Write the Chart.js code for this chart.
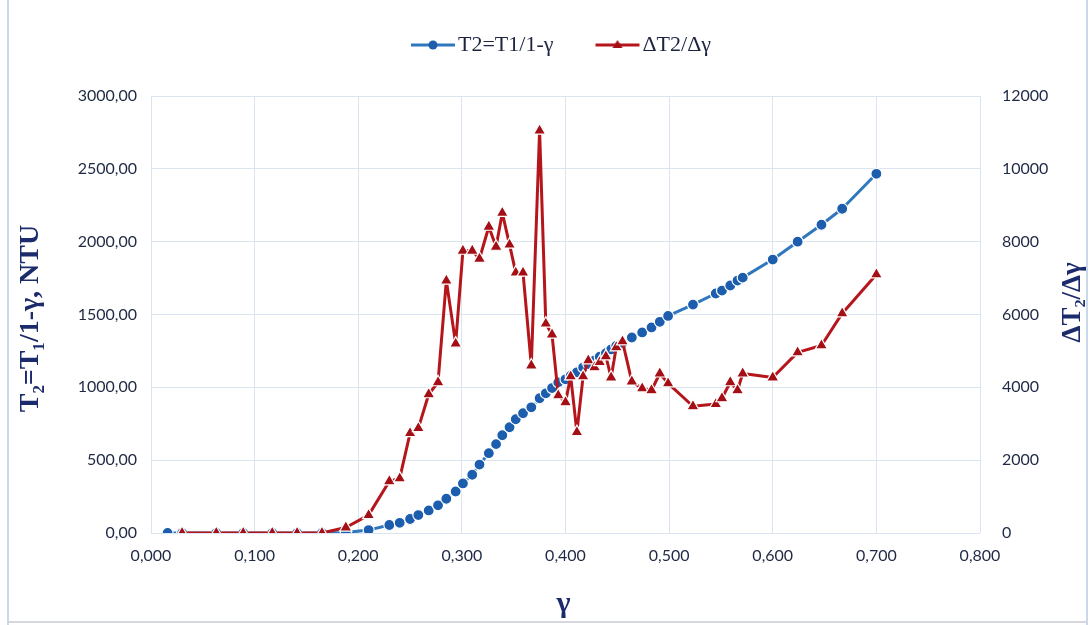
<!DOCTYPE html>
<html>
<head>
<meta charset="utf-8">
<script src="https://cdn.jsdelivr.net/npm/chart.js@4.4.1/dist/chart.umd.min.js"></script>
<style>
  body { margin: 0; background: #ffffff; }
  #wrap { position: relative; width: 1090px; height: 625px; }
</style>
</head>
<body>
<div id="wrap"><canvas id="chart" width="1090" height="625"></canvas></div>
<script>
// gamma values (x) and series
const gammaT2 = [0.016, 0.030, 0.063, 0.089, 0.117, 0.141, 0.165, 0.188, 0.210, 0.230, 0.240, 0.250, 0.258, 0.268, 0.277, 0.285, 0.294, 0.301, 0.310, 0.317, 0.326, 0.333, 0.339, 0.346, 0.352, 0.359, 0.367, 0.375, 0.381, 0.387, 0.393, 0.400, 0.405, 0.411, 0.417, 0.422, 0.428, 0.433, 0.439, 0.444, 0.449, 0.455, 0.464, 0.474, 0.483, 0.491, 0.499, 0.523, 0.545, 0.551, 0.559, 0.566, 0.571, 0.600, 0.624, 0.647, 0.667, 0.700];
const t2Values = [0, 0, 0, 0, 0, 0, 0, 3, 20, 55, 70, 96, 123, 155, 190, 235, 285, 340, 400, 470, 548, 610, 671, 726, 781, 822, 863, 925, 959, 995, 1034, 1055, 1080, 1103, 1137, 1160, 1185, 1210, 1235, 1260, 1285, 1305, 1342, 1377, 1411, 1450, 1490, 1568, 1644, 1664, 1699, 1733, 1753, 1877, 2000, 2116, 2226, 2466];

const gammaDeriv = [0.030, 0.063, 0.089, 0.117, 0.141, 0.165, 0.188, 0.210, 0.230, 0.240, 0.250, 0.258, 0.268, 0.277, 0.285, 0.294, 0.301, 0.310, 0.317, 0.326, 0.333, 0.339, 0.346, 0.352, 0.359, 0.367, 0.375, 0.381, 0.387, 0.393, 0.400, 0.405, 0.411, 0.417, 0.422, 0.428, 0.433, 0.439, 0.444, 0.449, 0.455, 0.464, 0.474, 0.483, 0.491, 0.499, 0.523, 0.545, 0.551, 0.559, 0.566, 0.571, 0.600, 0.624, 0.647, 0.667, 0.700];
const derivValues = [0, 0, 0, 0, 0, 0, 150, 490, 1420, 1500, 2740, 2880, 3810, 4140, 6930, 5200, 7750, 7750, 7530, 8410, 7860, 8790, 7920, 7150, 7150, 4600, 11050, 5750, 5450, 3780, 3590, 4300, 2770, 4300, 4740, 4550, 4690, 4850, 4270, 5100, 5260, 4160, 3970, 3920, 4380, 4110, 3480, 3540, 3700, 4140, 3920, 4380, 4270, 4960, 5150, 6030, 7100];

const xTickLabels = ['0,000', '0,100', '0,200', '0,300', '0,400', '0,500', '0,600', '0,700', '0,800'];
const leftTickLabels = ['0,00', '500,00', '1000,00', '1500,00', '2000,00', '2500,00', '3000,00'];
const rightTickLabels = ['0', '2000', '4000', '6000', '8000', '10000', '12000'];

const seriesNames = ['T2=T1/1-γ', 'ΔT2/Δγ'];

const blueLine = '#2f78be';
const blueDot = '#1c5ead';
const redLine = '#b5161c';
const redDot = '#a30f14';
const navy = '#1c2b6b';
const tickColor = '#1f2944';
const gridColor = '#dbe5f1';

// legend swatch: line + marker, sitting at the right end of its box
const iconBox = 68;
function legendIcon(lineColor, dotColor, style) {
    const c = document.createElement('canvas');
    c.width = iconBox + 18;
    c.height = 14;
    const g = c.getContext('2d');
    const end = iconBox + 17;
    const mid = end - 22;
    g.strokeStyle = lineColor;
    g.lineWidth = 3;
    g.beginPath();
    g.moveTo(end - 44, 7);
    g.lineTo(end, 7);
    g.stroke();
    g.fillStyle = dotColor;
    g.beginPath();
    if (style === 'circle') {
        g.arc(mid, 7, 4.5, 0, Math.PI * 2);
    } else {
        g.moveTo(mid, 2);
        g.lineTo(mid + 5, 10);
        g.lineTo(mid - 5, 10);
        g.closePath();
    }
    g.fill();
    return c;
}

const icons = [legendIcon(blueLine, blueDot, 'circle'), legendIcon(redLine, redDot, 'triangle')];

const framePlugin = {
    id: 'frame',
    beforeDraw(chart) {
        const ctx = chart.ctx;
        ctx.save();
        ctx.fillStyle = '#ffffff';
        ctx.fillRect(0, 0, chart.width, chart.height);
        ctx.fillStyle = '#c9d8ea';
        ctx.fillRect(7, 0, 2, chart.height);
        ctx.fillRect(1086, 0, 2, chart.height);
        ctx.fillStyle = '#d4d8de';
        ctx.fillRect(7, 621, 1081, 2);
        ctx.restore();
    },
    afterDraw(chart) {
        const ctx = chart.ctx;
        const area = chart.chartArea;
        const midY = (area.top + area.bottom) / 2;
        ctx.save();
        ctx.fillStyle = navy;
        ctx.textAlign = 'center';
        ctx.textBaseline = 'middle';
        ctx.font = 'bold 28px "Liberation Serif", "DejaVu Serif", serif';
        ctx.translate(31, midY + 4);
        ctx.rotate(-Math.PI / 2);
        ctx.fillText('T₂=T₁/1-γ, NTU', 0, 0);
        ctx.restore();

        ctx.save();
        ctx.fillStyle = navy;
        ctx.textAlign = 'center';
        ctx.textBaseline = 'middle';
        ctx.font = 'bold 27px "Liberation Serif", "DejaVu Serif", serif';
        ctx.translate(1073, midY - 12);
        ctx.rotate(-Math.PI / 2);
        ctx.fillText('ΔT₂/Δγ', 0, 0);
        ctx.restore();

        ctx.save();
        ctx.fillStyle = navy;
        ctx.textAlign = 'center';
        ctx.textBaseline = 'middle';
        ctx.font = 'bold 30px "Liberation Serif", "DejaVu Serif", serif';
        ctx.fillText('γ', (area.left + area.right) / 2 - 2, 604);
        ctx.restore();
    }
};

const legendGap = {
    id: 'legendGap',
    beforeInit(chart) {
        const fit = chart.legend.fit;
        chart.legend.fit = function () {
            fit.bind(chart.legend)();
            this.height += 30;
        };
    }
};

const ctx = document.getElementById('chart').getContext('2d');
new Chart(ctx, {
    type: 'line',
    data: {
        datasets: [{
            label: seriesNames[0],
            data: gammaT2.map((g, i) => ({ x: g, y: t2Values[i] })),
            yAxisID: 'y',
            order: 2,
            borderColor: blueLine,
            backgroundColor: blueDot,
            borderWidth: 3,
            borderJoinStyle: 'round',
            pointStyle: 'circle',
            pointRadius: 5.5,
            pointBackgroundColor: blueDot,
            pointBorderColor: '#ffffff',
            pointBorderWidth: 1.2,
            tension: 0
        }, {
            label: seriesNames[1],
            data: gammaDeriv.map((g, i) => ({ x: g, y: derivValues[i] })),
            yAxisID: 'y1',
            order: 1,
            borderColor: redLine,
            backgroundColor: redDot,
            borderWidth: 3,
            borderJoinStyle: 'round',
            pointStyle: 'triangle',
            pointRadius: 7,
            pointBackgroundColor: redDot,
            pointBorderColor: '#ffffff',
            pointBorderWidth: 1.2,
            tension: 0
        }]
    },
    options: {
        responsive: false,
        animation: false,
        layout: { padding: { top: 24, left: 0, right: 0, bottom: 0 } },
        plugins: {
            legend: {
                position: 'top',
                labels: {
                    usePointStyle: true,
                    pointStyleWidth: iconBox,
                    boxHeight: 14,
                    padding: 10,
                    color: '#1c2440',
                    font: { family: '"Liberation Serif", "DejaVu Serif", serif', size: 22 },
                    generateLabels(chart) {
                        return chart.data.datasets.map((ds, i) => ({
                            text: ds.label,
                            pointStyle: icons[i],
                            fillStyle: ds.borderColor,
                            strokeStyle: ds.borderColor,
                            lineWidth: 0,
                            hidden: false,
                            datasetIndex: i,
                            fontColor: '#1c2440'
                        }));
                    }
                }
            },
            tooltip: { enabled: false }
        },
        scales: {
            x: {
                type: 'linear',
                min: 0,
                max: 0.8,
                afterBuildTicks(scale) {
                    scale.ticks = xTickLabels.map((t, i) => ({ value: i / 10 }));
                },
                afterFit(scale) { scale.height = 92; },
                ticks: {
                    color: tickColor,
                    font: { family: 'Lato, "Open Sans", sans-serif', size: 16 },
                    padding: 13,
                    maxRotation: 0,
                    callback: (v, i) => xTickLabels[i]
                },
                grid: { color: gridColor, lineWidth: 1, drawTicks: false },
                border: { display: false }
            },
            y: {
                position: 'left',
                min: 0,
                max: 3000,
                afterBuildTicks(scale) {
                    scale.ticks = leftTickLabels.map((t, i) => ({ value: i * 500 }));
                },
                afterFit(scale) { scale.width = 151; },
                ticks: {
                    color: tickColor,
                    font: { family: 'Lato, "Open Sans", sans-serif', size: 16 },
                    padding: 14,
                    callback: (v, i) => leftTickLabels[i]
                },
                grid: { color: gridColor, lineWidth: 1, drawTicks: false },
                border: { display: false }
            },
            y1: {
                position: 'right',
                min: 0,
                max: 12000,
                afterBuildTicks(scale) {
                    scale.ticks = rightTickLabels.map((t, i) => ({ value: i * 2000 }));
                },
                afterFit(scale) { scale.width = 110; },
                ticks: {
                    color: tickColor,
                    font: { family: 'Lato, "Open Sans", sans-serif', size: 16 },
                    padding: 22,
                    callback: (v, i) => rightTickLabels[i]
                },
                grid: { drawOnChartArea: false, drawTicks: false },
                border: { display: false }
            }
        }
    },
    plugins: [framePlugin, legendGap]
});
</script>
</body>
</html>
